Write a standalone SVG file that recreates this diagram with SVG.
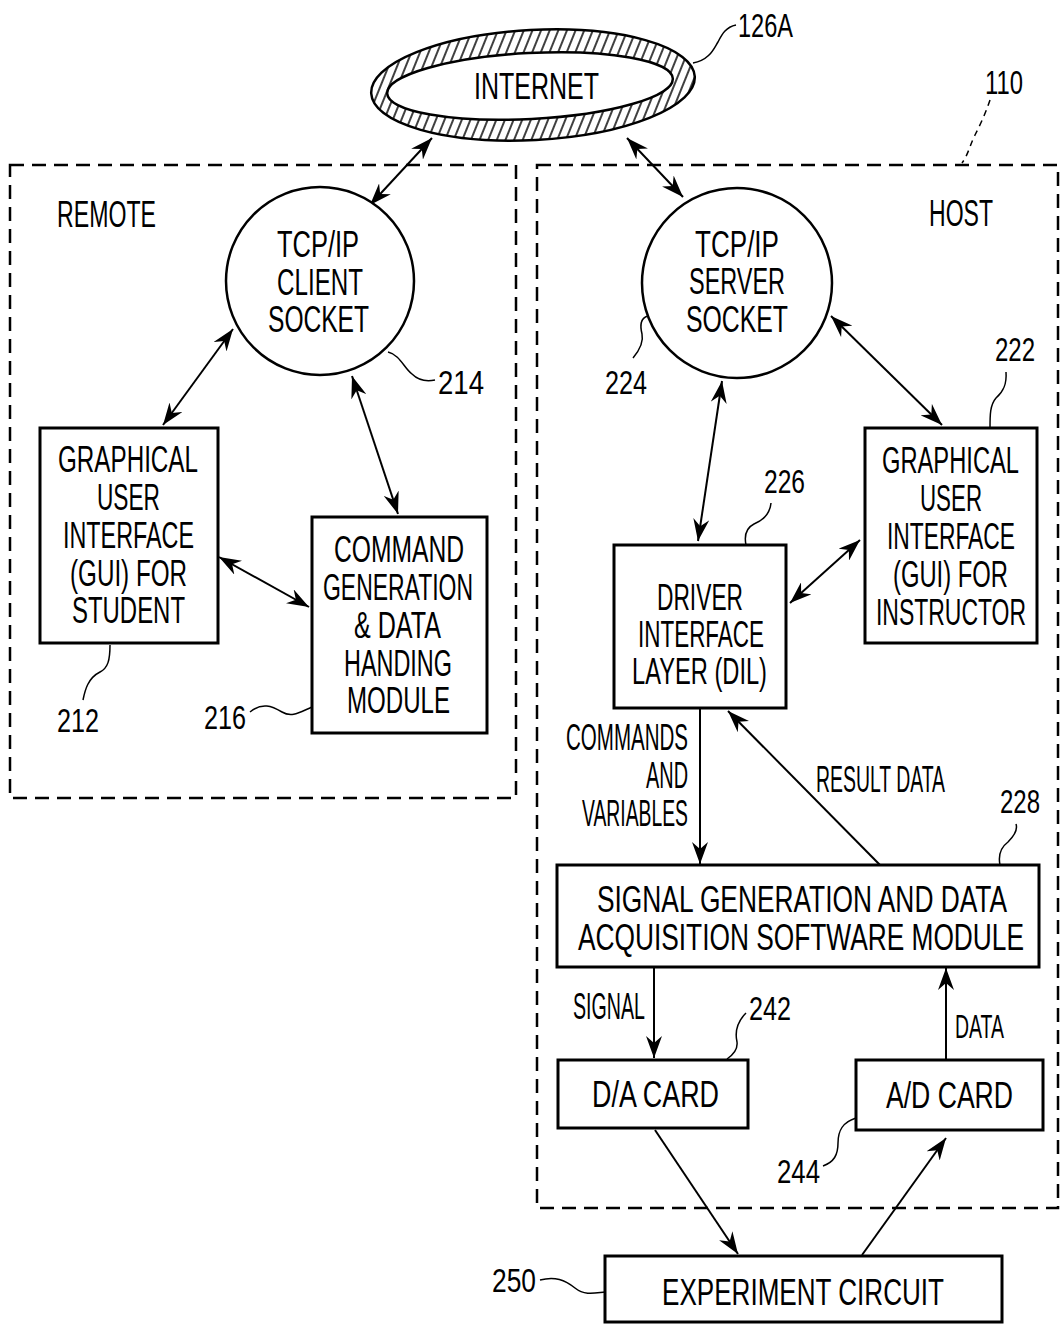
<svg xmlns="http://www.w3.org/2000/svg" width="1062" height="1326" viewBox="0 0 1062 1326">
<style>
  text { font-family: "Liberation Sans Narrow", "Liberation Sans", Arial, sans-serif; font-size: 36px; fill: #000; }
  .ref { font-size: 33px; }
  .box { fill: #fff; stroke: #000; stroke-width: 3; }
  .circ { fill: #fff; stroke: #000; stroke-width: 2.5; }
  .dash { fill: none; stroke: #000; stroke-width: 2.5; stroke-dasharray: 14 8; }
  .conn { fill: none; stroke: #000; stroke-width: 2; }
  .lead { fill: none; stroke: #000; stroke-width: 1.5; }
</style>
<defs>
  <marker id="ah" viewBox="0 0 22 16" refX="22" refY="8" markerWidth="22" markerHeight="16" markerUnits="userSpaceOnUse" orient="auto-start-reverse">
    <path d="M0,0 L22,8 L0,16 L7,8 z" fill="#000"/>
  </marker>
  <pattern id="hatch" patternUnits="userSpaceOnUse" width="8" height="8" patternTransform="rotate(25)">
    <rect width="8" height="8" fill="#fff"/>
    <line x1="2" y1="0" x2="2" y2="8" stroke="#000" stroke-width="1.5"/>
  </pattern>
</defs>
<rect width="1062" height="1326" fill="#fff"/>

<!-- containers -->
<g id="remote">
  <rect class="dash" x="10" y="165" width="506" height="633"/>
  <text x="57" y="227" textLength="99" lengthAdjust="spacingAndGlyphs">REMOTE</text>
</g>
<g id="host">
  <rect class="dash" x="537" y="165" width="521" height="1043"/>
  <text x="929" y="226" textLength="64" lengthAdjust="spacingAndGlyphs">HOST</text>
  <text class="ref" x="985" y="94" textLength="38" lengthAdjust="spacingAndGlyphs">110</text>
  <path class="lead" stroke-dasharray="6 5" d="M990,100 C985,115 980,125 975,135 C970,145 968,155 962,163"/>
</g>

<!-- internet -->
<g id="internet">
  <ellipse cx="533" cy="85" rx="162" ry="55" transform="rotate(-3 533 85)" fill="url(#hatch)" stroke="#000" stroke-width="2.5"/>
  <ellipse cx="530" cy="86" rx="143" ry="33" transform="rotate(-3 530 86)" fill="#fff" stroke="#000" stroke-width="2.5"/>
  <text x="474" y="99" textLength="125" lengthAdjust="spacingAndGlyphs">INTERNET</text>
  <text class="ref" x="738" y="37" textLength="55" lengthAdjust="spacingAndGlyphs">126A</text>
  <path class="lead" d="M693,63 C710,60 714,48 718,42 C722,34 726,27 736,25"/>
</g>

<!-- connectors -->
<g id="connectors">
  <line class="conn" x1="432" y1="138" x2="370" y2="205" marker-start="url(#ah)" marker-end="url(#ah)"/>
  <line class="conn" x1="627" y1="138" x2="683" y2="197" marker-start="url(#ah)" marker-end="url(#ah)"/>
  <line class="conn" x1="233" y1="329" x2="163" y2="425" marker-start="url(#ah)" marker-end="url(#ah)"/>
  <line class="conn" x1="352" y1="376" x2="398" y2="514" marker-start="url(#ah)" marker-end="url(#ah)"/>
  <line class="conn" x1="219" y1="557" x2="309" y2="607" marker-start="url(#ah)" marker-end="url(#ah)"/>
  <line class="conn" x1="831" y1="316" x2="942" y2="425" marker-start="url(#ah)" marker-end="url(#ah)"/>
  <line class="conn" x1="722" y1="381" x2="698" y2="541" marker-start="url(#ah)" marker-end="url(#ah)"/>
  <line class="conn" x1="790" y1="603" x2="860" y2="540" marker-start="url(#ah)" marker-end="url(#ah)"/>
  <line class="conn" x1="700" y1="708" x2="700" y2="864" marker-end="url(#ah)"/>
  <line class="conn" x1="880" y1="865" x2="728" y2="711" marker-end="url(#ah)"/>
  <line class="conn" x1="654" y1="967" x2="654" y2="1058" marker-end="url(#ah)"/>
  <line class="conn" x1="946" y1="1059" x2="946" y2="968" marker-end="url(#ah)"/>
  <line class="conn" x1="655" y1="1130" x2="738" y2="1254" marker-end="url(#ah)"/>
  <line class="conn" x1="862" y1="1255" x2="946" y2="1138" marker-end="url(#ah)"/>
  <text x="566" y="750" textLength="122" lengthAdjust="spacingAndGlyphs">COMMANDS</text>
  <text x="646" y="788" textLength="42" lengthAdjust="spacingAndGlyphs">AND</text>
  <text x="582" y="826" textLength="106" lengthAdjust="spacingAndGlyphs">VARIABLES</text>
  <text x="816" y="792" textLength="129" lengthAdjust="spacingAndGlyphs">RESULT DATA</text>
  <text x="573" y="1019" textLength="72" lengthAdjust="spacingAndGlyphs">SIGNAL</text>
  <text class="ref" x="955" y="1038" textLength="49" lengthAdjust="spacingAndGlyphs">DATA</text>
</g>

<!-- client socket -->
<g id="client-socket">
  <circle class="circ" cx="320" cy="281" r="94"/>
  <text x="277" y="257" textLength="82" lengthAdjust="spacingAndGlyphs">TCP/IP</text>
  <text x="277" y="295" textLength="86" lengthAdjust="spacingAndGlyphs">CLIENT</text>
  <text x="268" y="332" textLength="101" lengthAdjust="spacingAndGlyphs">SOCKET</text>
  <path class="lead" d="M388,352 C400,355 404,368 412,374 C418,380 425,382 435,380"/>
  <text class="ref" x="438" y="394" textLength="46" lengthAdjust="spacingAndGlyphs">214</text>
</g>

<!-- server socket -->
<g id="server-socket">
  <circle class="circ" cx="737" cy="283" r="95"/>
  <text x="695" y="257" textLength="84" lengthAdjust="spacingAndGlyphs">TCP/IP</text>
  <text x="689" y="294" textLength="96" lengthAdjust="spacingAndGlyphs">SERVER</text>
  <text x="686" y="332" textLength="102" lengthAdjust="spacingAndGlyphs">SOCKET</text>
  <path class="lead" d="M648,316 C640,318 640,326 642,334 C644,343 638,352 633,358"/>
  <text class="ref" x="605" y="394" textLength="42" lengthAdjust="spacingAndGlyphs">224</text>
</g>

<!-- GUI student -->
<g id="gui-student">
  <rect class="box" x="40" y="428" width="178" height="215"/>
  <text x="58" y="472" textLength="140" lengthAdjust="spacingAndGlyphs">GRAPHICAL</text>
  <text x="97" y="510" textLength="63" lengthAdjust="spacingAndGlyphs">USER</text>
  <text x="63" y="548" textLength="131" lengthAdjust="spacingAndGlyphs">INTERFACE</text>
  <text x="70" y="586" textLength="117" lengthAdjust="spacingAndGlyphs">(GUI) FOR</text>
  <text x="72" y="623" textLength="113" lengthAdjust="spacingAndGlyphs">STUDENT</text>
  <path class="lead" d="M110,645 C110,660 108,668 100,672 C88,678 85,690 83,700"/>
  <text class="ref" x="57" y="732" textLength="42" lengthAdjust="spacingAndGlyphs">212</text>
</g>

<!-- command generation -->
<g id="command-module">
  <rect class="box" x="312" y="517" width="175" height="216"/>
  <text x="334" y="562" textLength="130" lengthAdjust="spacingAndGlyphs">COMMAND</text>
  <text x="323" y="600" textLength="150" lengthAdjust="spacingAndGlyphs">GENERATION</text>
  <text x="354" y="638" textLength="87" lengthAdjust="spacingAndGlyphs">&amp; DATA</text>
  <text x="344" y="676" textLength="108" lengthAdjust="spacingAndGlyphs">HANDING</text>
  <text x="347" y="713" textLength="103" lengthAdjust="spacingAndGlyphs">MODULE</text>
  <path class="lead" d="M312,707 C300,712 292,718 282,712 C272,706 262,702 250,712"/>
  <text class="ref" x="204" y="729" textLength="42" lengthAdjust="spacingAndGlyphs">216</text>
</g>

<!-- GUI instructor -->
<g id="gui-instructor">
  <rect class="box" x="865" y="428" width="172" height="215"/>
  <text x="882" y="473" textLength="137" lengthAdjust="spacingAndGlyphs">GRAPHICAL</text>
  <text x="920" y="511" textLength="62" lengthAdjust="spacingAndGlyphs">USER</text>
  <text x="887" y="549" textLength="128" lengthAdjust="spacingAndGlyphs">INTERFACE</text>
  <text x="893" y="587" textLength="115" lengthAdjust="spacingAndGlyphs">(GUI) FOR</text>
  <text x="876" y="625" textLength="150" lengthAdjust="spacingAndGlyphs">INSTRUCTOR</text>
  <path class="lead" d="M990,428 C990,415 990,405 996,398 C1003,392 1007,385 1006,372"/>
  <text class="ref" x="995" y="361" textLength="40" lengthAdjust="spacingAndGlyphs">222</text>
</g>

<!-- DIL -->
<g id="dil">
  <rect class="box" x="614" y="545" width="172" height="163"/>
  <text x="657" y="610" textLength="86" lengthAdjust="spacingAndGlyphs">DRIVER</text>
  <text x="638" y="647" textLength="126" lengthAdjust="spacingAndGlyphs">INTERFACE</text>
  <text x="632" y="684" textLength="135" lengthAdjust="spacingAndGlyphs">LAYER (DIL)</text>
  <path class="lead" d="M746,545 C744,535 746,528 754,524 C764,520 770,512 771,503"/>
  <text class="ref" x="764" y="493" textLength="41" lengthAdjust="spacingAndGlyphs">226</text>
</g>

<!-- signal generation module -->
<g id="signal-module">
  <rect class="box" x="557" y="865" width="482" height="102"/>
  <text x="597" y="912" textLength="410" lengthAdjust="spacingAndGlyphs">SIGNAL GENERATION AND DATA</text>
  <text x="578" y="950" textLength="446" lengthAdjust="spacingAndGlyphs">ACQUISITION SOFTWARE MODULE</text>
  <path class="lead" d="M1000,865 C998,855 1000,848 1008,842 C1014,836 1018,830 1016,824"/>
  <text class="ref" x="1000" y="813" textLength="40" lengthAdjust="spacingAndGlyphs">228</text>
</g>

<!-- D/A card -->
<g id="da-card">
  <rect class="box" x="558" y="1060" width="190" height="68"/>
  <text x="592" y="1107" textLength="127" lengthAdjust="spacingAndGlyphs">D/A CARD</text>
  <path class="lead" d="M727,1059 C733,1055 738,1050 737,1042 C735,1033 737,1022 746,1013"/>
  <text class="ref" x="749" y="1020" textLength="42" lengthAdjust="spacingAndGlyphs">242</text>
</g>

<!-- A/D card -->
<g id="ad-card">
  <rect class="box" x="856" y="1060" width="187" height="70"/>
  <text x="886" y="1108" textLength="127" lengthAdjust="spacingAndGlyphs">A/D CARD</text>
  <path class="lead" d="M856,1118 C843,1122 838,1130 838,1143 C838,1155 834,1162 823,1166"/>
  <text class="ref" x="777" y="1183" textLength="43" lengthAdjust="spacingAndGlyphs">244</text>
</g>

<!-- experiment circuit -->
<g id="experiment-circuit">
  <rect class="box" x="605" y="1256" width="397" height="66"/>
  <text x="662" y="1305" textLength="282" lengthAdjust="spacingAndGlyphs">EXPERIMENT CIRCUIT</text>
  <path class="lead" d="M540,1280 C555,1276 565,1280 575,1288 C585,1296 595,1293 605,1292"/>
  <text class="ref" x="492" y="1292" textLength="44" lengthAdjust="spacingAndGlyphs">250</text>
</g>
</svg>
